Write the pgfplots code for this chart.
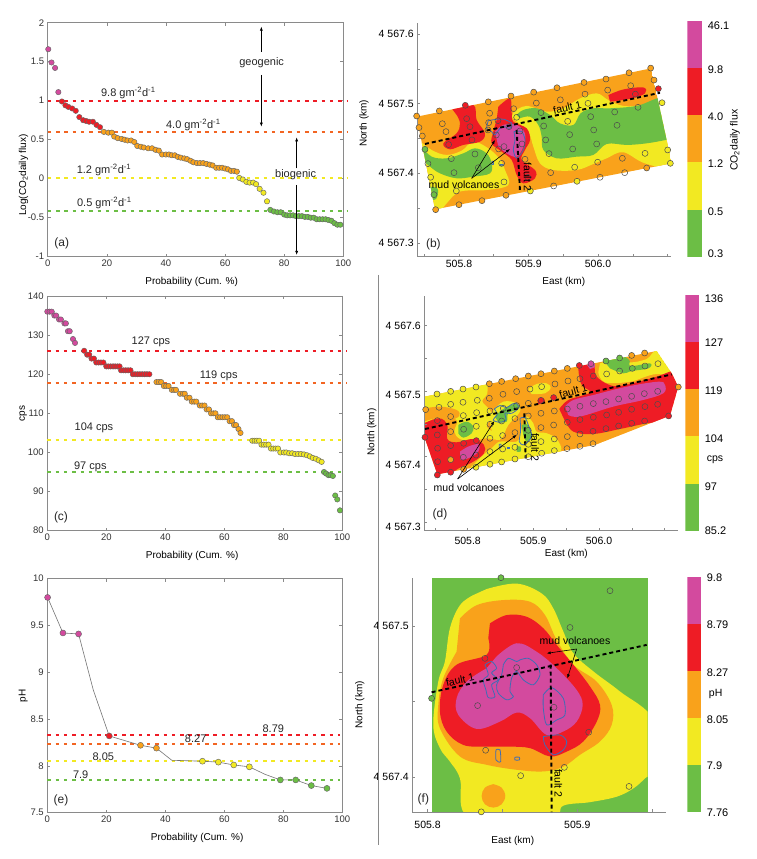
\documentclass[border=0pt]{standalone}
\usepackage{fontspec}
\setmainfont{Liberation Sans}
\usepackage{pgfplots}
\pgfplotsset{compat=1.18}
\usetikzlibrary{arrows.meta}

\definecolor{cmag}{HTML}{D34A9E}
\definecolor{cred}{HTML}{EE1C25}
\definecolor{cora}{HTML}{F9A21B}
\definecolor{cyel}{HTML}{F2E922}
\definecolor{cgre}{HTML}{6CBE45}
\definecolor{ldor}{HTML}{F26522}
\definecolor{cblu}{HTML}{3F6DB5}
\definecolor{axgr}{HTML}{8A8A8A}

\pgfplotsset{
  /pgf/number format/assume math mode=true,
  % left column: probability plots
  lpanel/.style={scale only axis,anchor=south west,clip=false,
    xmin=0,xmax=100,xtick={0,20,...,100},
    tick align=inside,major tick length=3pt,
    axis line style={axgr,line width=.6pt},tick style={axgr,line width=.5pt},
    tick label style={font=\fontsize{9.5}{11}\selectfont,text=black!80},
    label style={font=\fontsize{10}{12}\selectfont,text=black!85},
    xlabel={Probability (Cum. \%)},
  },
  xlab/.style={every axis x label/.style={at={(axis description cs:#1,-0.107)},anchor=center}},
  ylab/.style={every axis y label/.style={at={(axis description cs:-0.082,#1)},anchor=center,rotate=90}},
  hl/.style={#1,line width=2pt,dash pattern=on 3.5pt off 4.8pt},
  pt/.style={only marks,mark=*,mark size=#1,mark options={draw=black!60,line width=.45pt}},
  % maps: a hidden axis holds the colour fields, a second one the frame and the stations
  fieldax/.style={scale only axis,anchor=south west,hide axis},
  frameax/.style={scale only axis,anchor=south west,clip=false,
    axis x line*=bottom,axis y line*=left,
    axis line style={axgr,line width=.8pt,-},
    tick align=inside,major tick length=0pt,minor tick length=3pt,
    minor tick style={axgr,line width=.5pt},
    tick label style={font=\fontsize{10.5}{12}\selectfont,text=black},
    label style={font=\fontsize{10}{12}\selectfont,text=black!85},
    xlabel={East (km)},ylabel={North (km)},
    scaled ticks=false},
  cont/.style={draw=none,smooth,tension=.6},
  st/.style={only marks,mark=*,mark size=3pt,mark options={draw=black!70,line width=.5pt,fill=#1}},
  ost/.style={only marks,mark=o,mark size=3pt,mark options={draw=black!70,line width=.5pt}},
  vol/.style={cblu,line width=.8pt,smooth,tension=.5},
  flt/.style={black,line width=1.9pt,dash pattern=on 4pt off 3pt},
  cbar/.style={scale only axis,anchor=south west,xmin=0,xmax=1,ymin=0,ymax=5,
    xtick=\empty,yticklabel pos=right,major tick length=0pt,
    axis line style={draw=none},
    yticklabel style={xshift=2pt},
    tick label style={font=\fontsize{11}{12}\selectfont,text=black}},
  /pgfplots/table/zb/.style={row sep=\\,header=false,
    x expr=505.8+(\thisrowno{0}-297)/2085,y expr=4567.5+(311-\thisrowno{1})/2090},
  /pgfplots/table/zd/.style={row sep=\\,header=false,
    x expr=505.8+(\thisrowno{0}-323)/1970,y expr=4567.5+(318-\thisrowno{1})/1965},
  /pgfplots/table/zf/.style={row sep=\\,header=false,
    x expr=505.8+(\thisrowno{0}-203)/4490,y expr=4567.5+(183-\thisrowno{1})/4540},
  mapb/.style={at={(417.3pt,602.3pt)},width=253.4pt,height=234pt,
    xmin=505.74005,xmax=506.10456,ymin=4567.28038,ymax=4567.61627},
  mapd/.style={at={(424.3pt,328.3pt)},width=254pt,height=234.7pt,
    xmin=505.734,xmax=506.1208,ymin=4567.2868,ymax=4567.645},
  mapf/.style={at={(412.3pt,46.7pt)},width=253.7pt,height=234pt,
    xmin=505.7898,xmax=505.9592,ymin=4567.3769,ymax=4567.5315},
}

\begin{document}
\begin{tikzpicture}[x=1pt,y=1pt]
\path[use as bounding box] (0,0) rectangle (757,859);

% ---------- (a)
\begin{axis}[lpanel,xlab=0.487,ylab=0.349,at={(47.7pt,602.3pt)},width=295.6pt,height=234pt,
  ymin=-1,ymax=2,ytick={-1,-0.5,0,0.5,1,1.5,2},
  ylabel={Log(CO\textsubscript{2}daily flux)}]
\addplot[hl=cred] coordinates {(0,1)(101.7,1)};
\addplot[hl=ldor] coordinates {(0,0.6)(101.7,0.6)};
\addplot[hl=cyel] coordinates {(0,0.01)(101.7,0.01)};
\addplot[hl=cgre] coordinates {(0,-0.41)(101.7,-0.41)};
\addplot[pt=2.7pt,fill=cmag] coordinates {(0.2,1.66)(1.3,1.49)(2.5,1.42)(3.6,1.11)};
\addplot[pt=2.7pt,fill=cred] coordinates {(4.8,0.99)(6,0.94)(7,0.92)(8.3,0.90)(9.5,0.87)(10.7,0.79)(12,0.75)(13,0.74)(14,0.73)(15.3,0.73)(16.5,0.69)(17.7,0.66)};
\addplot[pt=2.7pt,fill=cora] coordinates {(19,0.60)(20.5,0.59)(21.7,0.59)(22.5,0.54)(23.7,0.52)(25,0.51)(26,0.50)(27,0.49)(28.2,0.49)(29.3,0.47)(30.3,0.42)(31.5,0.41)(32.5,0.40)(34,0.39)(35.3,0.39)(36.5,0.37)(37.6,0.36)(38.7,0.31)(40,0.31)(41,0.31)(42,0.30)(43,0.30)(44,0.28)(45,0.27)(46.2,0.26)(47.2,0.25)(48.3,0.23)(49.3,0.21)(50.5,0.20)(51.5,0.20)(52.6,0.20)(53.7,0.19)(54.8,0.18)(55.8,0.17)(57,0.14)(58,0.14)(59,0.14)(60,0.13)(61,0.12)(62,0.10)(63,0.10)(64,0.09)};
\addplot[pt=2.7pt,fill=cyel] coordinates {(64.8,0.01)(66,-0.01)(67.2,-0.04)(68.3,-0.05)(69.5,-0.05)(70.5,-0.07)(71.7,-0.13)(73,-0.18)(74.2,-0.29)};
\addplot[pt=2.7pt,fill=cgre] coordinates {(75.3,-0.40)(76.5,-0.42)(77.7,-0.43)(78.8,-0.43)(80,-0.46)(81,-0.47)(82,-0.47)(83,-0.47)(84,-0.48)(85,-0.48)(86,-0.48)(87,-0.49)(88,-0.49)(89,-0.50)(90,-0.50)(91,-0.52)(92,-0.52)(93,-0.52)(94,-0.52)(95,-0.53)(96,-0.54)(97,-0.57)(98,-0.59)(99,-0.59)};
\end{axis}

% ---------- (c)
\begin{axis}[lpanel,xlab=0.491,ylab=0.5,at={(47.3pt,328.3pt)},width=295pt,height=234.7pt,
  ymin=80,ymax=140,ytick={80,90,...,140},ylabel={cps}]
\addplot[hl=cred] coordinates {(0,126)(101.5,126)};
\addplot[hl=ldor] coordinates {(0,117.8)(101.5,117.8)};
\addplot[hl=cyel] coordinates {(0,103.3)(101,103.3)};
\addplot[hl=cgre] coordinates {(0,95)(101,95)};
\addplot[pt=2.7pt,fill=cmag] coordinates {(0,136)(0.8,136)(1.5,136)(2.4,135)(3,135)(4,134)(4.6,134)(5.8,133)(6.3,133)(7,131)(7.6,131)(8.7,129)(9.4,128)};
\addplot[pt=2.7pt,fill=cred] coordinates {(12.5,126)(13.5,125)(14.2,125)(15,124)(15.8,124)(16.6,123)(17.4,123)(18.2,123)(19,123)(20,122)(20.7,122)(21.5,122)(22.3,122)(23,122)(23.8,122)(24.5,122)(25,121)(25.8,121)(26.6,121)(27.4,121)(28.2,121)(29,120)(29.8,120)(30.6,120)(31.4,120)(32.2,120)(33,120)(33.8,120)(34.6,120)};
\addplot[pt=2.7pt,fill=cora] coordinates {(37,118)(37.8,118)(38.6,118)(39.5,117)(40.3,117)(41.1,117)(42.2,116)(43,116)(43.6,116)(45,115)(46,115)(46.6,115)(47.3,114)(48.2,114)(49,113)(49.8,113)(50.5,113)(51.7,112)(52.5,112)(53.3,112)(54,111)(54.8,111)(55.5,110)(56.3,110)(57,110)(57.8,109)(58.6,109)(59.4,109)(60.2,109)(61,109)(61.8,108)(62.6,108)(63.3,107)(64,107)(64.8,106)(65.5,105)};
\addplot[pt=2.7pt,fill=cyel] coordinates {(69.5,103)(70.3,103)(71,103)(71.8,103)(72.6,102)(73.4,102)(74.2,102)(75,102)(75.8,101)(76.6,101)(77.4,101)(78.2,101)(79,100)(80.2,100)(81,100)(82,99.8)(83,99.8)(84,99.6)(85,99.6)(86,99.6)(87,99.5)(88,99.3)(89,99)(90,98.6)(91,98.4)(92,98)(93,97.6)};
\addplot[pt=2.7pt,fill=cgre] coordinates {(93.8,95)(94.5,94.6)(95.3,94.2)(96,94.2)(96.8,94)(97.6,89)(98.3,88)(99.2,85.2)};
\end{axis}

% ---------- (e)
\begin{axis}[lpanel,xlab=0.508,ylab=0.5,at={(47.3pt,46.3pt)},width=295pt,height=234pt,
  ymin=7.5,ymax=10,ytick={7.5,8,...,10},ylabel={pH}]
\addplot[hl=cred] coordinates {(0,8.33)(99.2,8.33)};
\addplot[hl=ldor] coordinates {(0,8.23)(99.2,8.23)};
\addplot[hl=cyel] coordinates {(0,8.05)(99.2,8.05)};
\addplot[hl=cgre] coordinates {(0,7.85)(99.2,7.85)};
\addplot[black!55,line width=.6pt] coordinates {(0.1,9.8)(5.3,9.42)(10.6,9.41)(15.6,8.81)(21,8.32)(31.6,8.22)(37,8.19)(42.2,8.06)(52.6,8.05)(58,8.04)(63.2,8.01)(68.5,7.99)(73.8,7.91)(79,7.85)(84.2,7.85)(89.5,7.79)(94.8,7.76)};
\addplot[pt=3pt,fill=cmag] coordinates {(0.1,9.8)(5.3,9.42)(10.6,9.41)};
\addplot[pt=3pt,fill=cred] coordinates {(21,8.32)};
\addplot[pt=3pt,fill=cora] coordinates {(31.6,8.22)(37,8.19)};
\addplot[pt=3pt,fill=cyel] coordinates {(52.6,8.05)(58,8.04)(63.2,8.01)(68.5,7.99)};
\addplot[pt=3pt,fill=cgre] coordinates {(79,7.85)(84.2,7.85)(89.5,7.79)(94.8,7.76)};
\end{axis}

% ---------- (b) colour field
\begin{axis}[fieldax,mapb]
\clip (505.7391,4567.4813) -- (506.0763,4567.5507) -- (506.1060,4567.4144) -- (505.7655,4567.3483) -- cycle;
\addplot[draw=none,fill=cora] table[zb] {170 350\\ 873 205\\ 935 490\\ 225 628\\};
\addplot[cont,fill=cyel] table[zb] {462 335\\ 500 318\\ 560 335\\ 610 325\\ 660 295\\ 710 280\\ 745 300\\ 790 318\\ 850 315\\ 930 295\\ 980 400\\ 980 510\\ 860 492\\ 790 457\\ 740 475\\ 700 492\\ 650 510\\ 580 510\\ 540 490\\ 520 440\\ 505 395\\ 470 365\\ 455 350\\};
\addplot[cont,fill=cgre] table[zb] {470 345\\ 490 330\\ 530 325\\ 570 345\\ 600 370\\ 640 375\\ 662 340\\ 700 325\\ 750 325\\ 830 318\\ 925 295\\ 960 410\\ 918 420\\ 860 430\\ 800 435\\ 740 432\\ 700 465\\ 650 470\\ 590 475\\ 550 450\\ 545 410\\ 535 375\\ 510 350\\ 480 355\\};
\addplot[cont,fill=cyel] table[zb] {170 415\\ 215 450\\ 260 465\\ 305 452\\ 340 425\\ 385 445\\ 420 478\\ 435 510\\ 445 555\\ 380 570\\ 300 575\\ 260 610\\ 225 650\\ 195 620\\ 160 500\\};
\addplot[cont,fill=cgre] table[zb] {185 440\\ 215 470\\ 260 475\\ 310 460\\ 345 445\\ 380 460\\ 395 490\\ 390 520\\ 340 530\\ 290 535\\ 240 520\\ 210 500\\ 185 480\\};
\addplot[cont,fill=cgre] table[zb] {205 560\\ 232 565\\ 232 590\\ 222 600\\ 205 590\\};
\addplot[cont,fill=cred] table[zb] {275 325\\ 340 315\\ 350 360\\ 375 400\\ 360 425\\ 310 435\\ 270 448\\ 250 430\\ 290 400\\ 300 370\\ 290 345\\};
\addplot[cont,fill=cred] table[zb] {415 320\\ 450 295\\ 455 335\\ 460 365\\ 500 385\\ 510 420\\ 495 450\\ 485 480\\ 525 510\\ 525 535\\ 490 550\\ 470 525\\ 455 480\\ 425 455\\ 395 430\\ 400 395\\ 410 360\\};
\addplot[cont,fill=cred] table[zb] {745 285\\ 790 268\\ 850 262\\ 855 280\\ 815 295\\ 750 305\\};
\addplot[cont,fill=cmag] table[zb] {405 395\\ 430 375\\ 470 375\\ 495 400\\ 490 440\\ 470 470\\ 440 460\\ 415 440\\};
\end{axis}
% ---------- (b) frame, stations
\begin{axis}[frameax,mapb,
  xtick={505.8,505.9,506.0},xticklabels={505.8,505.9,506.0},
  minor xtick={505.75,505.8,505.85,505.9,505.95,506.0,506.05,506.1},
  ytick={4567.3,4567.4,4567.5,4567.6},yticklabels={4 567.3,4 567.4,4 567.5,4 567.6},
  minor ytick={4567.3,4567.35,4567.4,4567.45,4567.5,4567.55,4567.6},
  every axis x label/.style={at={(axis description cs:0.578,-0.108)},anchor=center},
  every axis y label/.style={at={(axis description cs:-0.21,0.57)},anchor=center,rotate=90}]
\addplot[vol] table[zb] {385 362\\ 410 358\\ 432 358\\ 455 370\\ 450 385\\ 425 380\\ 405 405\\ 395 395\\ 380 385\\ 385 362\\};
\addplot[vol] table[zb] {462 395\\ 485 395\\ 495 420\\ 490 450\\ 470 475\\ 460 450\\ 465 420\\ 462 395\\};
\addplot[vol] table[zb] {396 484\\ 400 484\\ 400 494\\ 396 494\\ 396 484\\};
\addplot[vol] table[zb] {420 494\\ 430 494\\ 430 497\\ 420 497\\ 420 494\\};
\addplot[flt] table[zb] {195 432\\ 900 278\\};
\addplot[flt] table[zb] {470 390\\ 480 572\\};
\addplot[st=cora] table[zb] {170 348\\ 238 333\\ 385 305\\ 453 288\\ 521 276\\ 591 263\\ 672 247\\ 738 237\\ 807 218\\ 872 204\\ 177 383\\ 882 240\\ 187 408\\ 227 629\\ 297 614\\ 366 602\\ 438 586\\ 860 504\\};
\addplot[st=cred] table[zb] {895 266\\ 316 316\\};
\addplot[st=cyel] table[zb] {906 308\\ 923 450\\ 931 490\\ 511 573\\ 651 544\\ 212 532\\};
\addplot[st=cgre] table[zb] {195 448\\ 222 584\\};
\addplot[ost] table[zb] {320 356\\ 389 340\\ 461 326\\ 529 309\\ 601 299\\ 675 282\\ 743 270\\ 812 257\\ 247 371\\ 330 380\\ 414 362\\ 470 352\\ 543 338\\ 623 364\\ 684 310\\ 764 336\\ 826 282\\ 258 395\\ 386 368\\ 384 390\\ 447 380\\ 480 393\\ 551 378\\ 629 404\\ 692 350\\ 771 376\\ 834 322\\ 266 434\\ 336 420\\ 409 405\\ 486 432\\ 557 420\\ 638 447\\ 701 390\\ 710 432\\ 855 460\\ 204 491\\ 274 476\\ 345 462\\ 416 447\\ 432 440\\ 495 478\\ 567 461\\ 644 502\\ 713 487\\ 787 475\\ 282 518\\ 355 503\\ 425 490\\ 572 518\\ 720 532\\ 794 518\\ 289 573\\ 432 546\\ 503 532\\ 581 558\\};
\end{axis}
% colour bar (b)
\begin{axis}[cbar,at={(687.3pt,602.3pt)},width=15pt,height=235.7pt,
  ytick={0.06,0.96,1.97,2.98,3.96,4.89},yticklabels={0.3,0.5,1.2,4.0,9.8,46.1}]
\addplot[draw=none,fill=cgre] coordinates {(0,0)(1,0)(1,1)(0,1)};
\addplot[draw=none,fill=cyel] coordinates {(0,1)(1,1)(1,2)(0,2)};
\addplot[draw=none,fill=cora] coordinates {(0,2)(1,2)(1,3)(0,3)};
\addplot[draw=none,fill=cred] coordinates {(0,3)(1,3)(1,4)(0,4)};
\addplot[draw=none,fill=cmag] coordinates {(0,4)(1,4)(1,5)(0,5)};
\end{axis}

% ---------- (d) colour field
\begin{axis}[fieldax,mapd]
\clip (505.7340,4567.4913) -- (506.0878,4567.5611) -- (506.1107,4567.5270) -- (506.1208,4567.5066) -- (506.1081,4567.4623) -- (505.9939,4567.4176) -- (505.7538,4567.3728) -- (505.7340,4567.4303) -- cycle;
\addplot[draw=none,fill=cora] table[zd] {193 335\\ 890 198\\ 935 265\\ 955 305\\ 930 392\\ 705 480\\ 232 568\\ 193 455\\};
\addplot[cont,fill=cyel] table[zd] {185 330\\ 290 305\\ 372 290\\ 382 325\\ 367 348\\ 385 370\\ 398 395\\ 380 425\\ 415 450\\ 420 465\\ 375 460\\ 340 470\\ 300 462\\ 283 440\\ 290 405\\ 240 395\\ 185 420\\};
\addplot[cont,fill=cora] table[zd] {185 372\\ 240 365\\ 290 375\\ 298 393\\ 270 405\\ 240 397\\ 185 412\\};
\addplot[cont,fill=cgre] table[zd] {295 420\\ 320 410\\ 340 425\\ 335 445\\ 310 458\\ 295 445\\};
\addplot[cont,fill=cyel] table[zd] {398 378\\ 430 350\\ 470 355\\ 480 380\\ 445 420\\ 425 460\\ 400 450\\ 390 410\\};
\addplot[cont,fill=cgre] table[zd] {405 395\\ 425 375\\ 445 365\\ 470 355\\ 478 370\\ 445 385\\ 440 410\\ 415 412\\};
\addplot[cont,fill=cyel] table[zd] {320 560\\ 370 510\\ 395 490\\ 420 470\\ 470 470\\ 482 440\\ 498 395\\ 520 415\\ 530 440\\ 560 445\\ 590 462\\ 603 500\\ 560 540\\ 350 580\\};
\addplot[cont,fill=cgre] table[zd] {470 485\\ 482 485\\ 482 500\\ 470 500\\};
\addplot[cont,fill=cgre] table[zd] {485 420\\ 505 420\\ 515 455\\ 500 470\\ 490 450\\};
\addplot[cont,fill=cyel] table[zd] {505 312\\ 530 297\\ 560 295\\ 572 308\\ 555 325\\ 515 327\\};
\addplot[cont,fill=cred] table[zd] {170 425\\ 235 400\\ 262 420\\ 262 462\\ 290 472\\ 340 462\\ 372 480\\ 372 505\\ 340 530\\ 300 548\\ 232 580\\ 180 500\\};
\addplot[cont,fill=cmag] table[zd] {300 500\\ 325 485\\ 356 478\\ 354 502\\ 325 520\\ 302 525\\};
\addplot[cont,fill=cyel] table[zd] {720 235\\ 770 222\\ 810 232\\ 860 222\\ 893 198\\ 945 265\\ 880 268\\ 810 290\\ 735 292\\ 715 262\\};
\addplot[cont,fill=cgre] table[zd] {730 225\\ 780 212\\ 808 225\\ 812 243\\ 870 235\\ 865 250\\ 815 258\\ 790 265\\ 750 250\\};
\addplot[cont,fill=cred] table[zd] {598 372\\ 625 345\\ 680 328\\ 690 318\\ 670 305\\ 660 285\\ 658 240\\ 700 235\\ 708 272\\ 745 298\\ 785 302\\ 880 278\\ 960 255\\ 975 310\\ 945 400\\ 860 415\\ 780 432\\ 700 447\\ 640 440\\ 612 402\\};
\addplot[cont,fill=cmag] table[zd] {615 365\\ 640 345\\ 700 330\\ 800 305\\ 895 290\\ 915 300\\ 910 325\\ 850 345\\ 760 365\\ 660 395\\ 625 390\\};
\addplot[cont,fill=cmag] table[zd] {680 238\\ 700 230\\ 705 245\\ 690 252\\};
\addplot[cont,fill=cred] table[zd] {532 345\\ 550 340\\ 555 352\\ 535 358\\};
\end{axis}
% ---------- (d) frame, stations
\begin{axis}[frameax,mapd,
  xtick={505.8,505.9,506.0},xticklabels={505.8,505.9,506.0},
  xticklabel style={yshift=-3pt},
  minor xtick={505.75,505.8,505.85,505.9,505.95,506.0,506.05,506.1},
  ytick={4567.2919,4567.388,4567.4939,4567.5992},yticklabels={4 567.3,4 567.4,4 567.5,4 567.6},
  minor ytick={4567.3,4567.35,4567.4,4567.45,4567.5,4567.55,4567.6},
  every axis x label/.style={at={(axis description cs:0.559,-0.1)},anchor=center},
  every axis y label/.style={at={(axis description cs:-0.207,0.42)},anchor=center,rotate=90}]
\addplot[vol] table[zd] {403 372\\ 420 362\\ 440 368\\ 455 358\\ 470 355\\ 475 370\\ 455 385\\ 435 385\\ 438 405\\ 420 412\\ 400 405\\ 412 388\\ 403 372\\};
\addplot[vol] table[zd] {480 400\\ 495 398\\ 505 420\\ 515 450\\ 505 470\\ 490 480\\ 478 470\\ 482 435\\ 480 400\\};
\addplot[vol] table[zd] {418 478\\ 423 478\\ 423 488\\ 418 488\\ 418 478\\};
\addplot[vol] table[zd] {443 486\\ 447 486\\ 447 490\\ 443 490\\ 443 486\\};
\addplot[flt] table[zd] {195 432\\ 935 268\\};
\addplot[flt] table[zd] {493 385\\ 497 520\\};
\addplot[st=cyel] table[zd] {231 327\\ 272 319\\ 309 312\\ 348 306\\ 465 522\\ 390 538\\ 425 531\\ 348 547\\};
\addplot[st=cora] table[zd] {388 296\\ 425 289\\ 467 281\\ 505 273\\ 543 266\\ 583 258\\ 622 250\\ 815 211\\ 854 204\\ 197 374\\ 955 306\\ 311 553\\ 272 524\\};
\addplot[st=cred] table[zd] {195 457\\ 232 570\\ 272 562\\ 349 467\\ 543 346\\ 581 338\\ 658 241\\ 926 393\\};
\addplot[st=cmag] table[zd] {693 236\\};
\addplot[st=cgre] table[zd] {738 228\\ 779 219\\};
\addplot[ost] table[zd] {237 367\\ 272 358\\ 309 352\\ 352 346\\ 388 340\\ 429 328\\ 470 320\\ 510 312\\ 545 305\\ 585 297\\ 624 288\\ 660 281\\ 700 273\\ 740 267\\ 779 258\\ 817 250\\ 855 243\\ 894 236\\ 232 407\\ 272 395\\ 310 392\\ 350 383\\ 390 378\\ 430 370\\ 470 362\\ 505 355\\ 622 372\\ 660 364\\ 700 356\\ 738 350\\ 776 342\\ 815 334\\ 853 326\\ 893 319\\ 232 450\\ 272 440\\ 311 433\\ 349 424\\ 390 418\\ 425 408\\ 465 401\\ 505 393\\ 543 385\\ 583 378\\ 622 412\\ 660 404\\ 700 397\\ 740 390\\ 776 382\\ 815 373\\ 855 365\\ 893 358\\ 233 490\\ 272 482\\ 311 475\\ 390 460\\ 428 452\\ 465 443\\ 505 436\\ 543 428\\ 581 420\\ 622 455\\ 660 447\\ 699 439\\ 738 431\\ 776 423\\ 815 415\\ 854 408\\ 233 530\\ 310 517\\ 348 510\\ 390 500\\ 428 492\\ 465 487\\ 505 478\\ 543 470\\ 583 462\\ 505 515\\ 545 505\\ 583 497\\ 621 491\\ 660 484\\ 699 476\\};
\end{axis}
% colour bar (d)
\begin{axis}[cbar,at={(685.3pt,328.3pt)},width=14pt,height=235.7pt,
  ytick={0,0.93,1.96,2.97,3.99,4.92},yticklabels={85.2,97,104,119,127,136}]
\addplot[draw=none,fill=cgre] coordinates {(0,0)(1,0)(1,1)(0,1)};
\addplot[draw=none,fill=cyel] coordinates {(0,1)(1,1)(1,2)(0,2)};
\addplot[draw=none,fill=cora] coordinates {(0,2)(1,2)(1,3)(0,3)};
\addplot[draw=none,fill=cred] coordinates {(0,3)(1,3)(1,4)(0,4)};
\addplot[draw=none,fill=cmag] coordinates {(0,4)(1,4)(1,5)(0,5)};
\end{axis}

% ---------- (f) colour field
\begin{axis}[fieldax,mapf]
\addplot[draw=none,fill=cgre] table[zf] {215 40\\ 863 40\\ 863 742\\ 215 742\\};
\clip (505.8027,4567.5315) -- (505.9470,4567.5315) -- (505.9470,4567.3769) -- (505.8027,4567.3769) -- cycle;
\addplot[cont,fill=cyel] table[zf] {380 72\\ 470 55\\ 545 85\\ 580 130\\ 610 200\\ 640 265\\ 700 320\\ 780 380\\ 880 465\\ 880 610\\ 855 640\\ 820 670\\ 770 695\\ 690 712\\ 610 722\\ 570 760\\ 330 760\\ 300 640\\ 270 590\\ 240 550\\ 220 480\\ 235 350\\ 255 290\\ 270 190\\ 300 120\\ 340 90\\};
\addplot[cont,fill=cora] table[zf] {300 160\\ 350 120\\ 430 105\\ 510 110\\ 555 150\\ 590 225\\ 640 300\\ 710 350\\ 755 420\\ 755 480\\ 720 530\\ 660 570\\ 610 605\\ 550 620\\ 470 615\\ 380 600\\ 300 575\\ 240 490\\ 235 420\\ 250 340\\ 290 260\\};
\addplot[cont,fill=cora] table[zf] {400 658\\ 425 668\\ 436 693\\ 425 718\\ 400 728\\ 375 718\\ 365 693\\ 375 668\\ 400 658\\};
\addplot[cont,fill=cred] table[zf] {390 175\\ 440 150\\ 500 155\\ 550 190\\ 590 240\\ 640 300\\ 690 365\\ 720 420\\ 710 470\\ 670 530\\ 620 560\\ 570 575\\ 510 550\\ 450 545\\ 380 545\\ 310 540\\ 260 500\\ 240 440\\ 250 360\\ 290 300\\ 380 270\\ 385 220\\};
\addplot[cont,fill=cmag] table[zf] {410 275\\ 470 235\\ 530 260\\ 590 310\\ 650 375\\ 668 420\\ 650 470\\ 610 500\\ 560 510\\ 510 460\\ 470 443\\ 420 470\\ 350 492\\ 295 450\\ 290 400\\ 320 350\\ 380 310\\};
\end{axis}
% ---------- (f) frame, stations
\begin{axis}[frameax,mapf,
  xtick={505.8,505.9},xticklabels={505.8,505.9},
  xticklabel style={yshift=-5pt},
  minor xtick={505.8,505.85,505.9,505.95},
  ytick={4567.4,4567.5},yticklabels={4 567.4,4 567.5},
  minor ytick={4567.4,4567.45,4567.5},
  every axis x label/.style={at={(axis description cs:0.396,-0.122)},anchor=center},
  every axis y label/.style={at={(axis description cs:-0.207,0.46)},anchor=center,rotate=90}]
\addplot[vol] table[zf] {375 300\\ 395 290\\ 410 310\\ 395 325\\ 415 345\\ 395 360\\ 405 395\\ 385 398\\ 378 375\\ 370 345\\ 385 330\\ 375 300\\};
\addplot[vol] table[zf] {430 300\\ 445 280\\ 470 290\\ 480 285\\ 505 280\\ 530 300\\ 540 330\\ 520 360\\ 490 345\\ 470 320\\ 455 340\\ 450 380\\ 460 395\\ 440 405\\ 415 385\\ 410 360\\ 425 330\\ 430 300\\};
\addplot[vol] table[zf] {550 390\\ 575 368\\ 610 400\\ 615 450\\ 590 465\\ 560 480\\ 550 430\\ 550 390\\};
\addplot[vol] table[zf] {550 515\\ 600 510\\ 620 530\\ 610 555\\ 580 570\\ 555 540\\ 550 515\\};
\addplot[vol] table[zf] {408 555\\ 420 555\\ 422 590\\ 408 585\\ 408 555\\};
\addplot[vol] table[zf] {465 577\\ 478 577\\ 478 585\\ 465 585\\ 465 577\\};
\addplot[flt] table[zf] {215 382\\ 860 240\\};
\addplot[flt] table[zf] {572 300\\ 575 742\\};
\addplot[st=cgre] table[zf] {423 38\\ 215 400\\};
\addplot[st=cyel] table[zf] {364 741\\};
\addplot[ost] table[zf] {750 77\\ 630 188\\ 375 280\\ 470 308\\ 353 422\\ 582 427\\ 686 502\\ 377 556\\ 613 607\\ 482 632\\ 807 665\\};
\end{axis}
% colour bar (f)
\begin{axis}[cbar,at={(687.3pt,46.7pt)},width=14pt,height=235pt,
  ytick={0,1,1.96,2.98,4,4.99},yticklabels={7.76,7.9,8.05,8.27,8.79,9.8}]
\addplot[draw=none,fill=cgre] coordinates {(0,0)(1,0)(1,1)(0,1)};
\addplot[draw=none,fill=cyel] coordinates {(0,1)(1,1)(1,2)(0,2)};
\addplot[draw=none,fill=cora] coordinates {(0,2)(1,2)(1,3)(0,3)};
\addplot[draw=none,fill=cred] coordinates {(0,3)(1,3)(1,4)(0,4)};
\addplot[draw=none,fill=cmag] coordinates {(0,4)(1,4)(1,5)(0,5)};
\end{axis}

% ---------- panel separator
\draw[axgr,line width=.6pt] (378.5,584) -- (378.5,14);

\tikzset{lbl/.style={font=\fontsize{11}{13}\selectfont,text=black!85},
         pan/.style={font=\fontsize{12}{14}\selectfont,text=black!85},
         mtx/.style={font=\fontsize{10.5}{12}\selectfont,text=black},
         arr/.style={black,line width=.6pt,-{Latex[length=4pt,width=3pt]}}}

% text and arrows, panel (a)
\begin{scope}[shift={(0,859)},x=0.33333pt,y=-0.33333pt]
\node[lbl] at (385,280) {9.8 gm\textsuperscript{-2}d\textsuperscript{-1}};
\node[lbl] at (580,376) {4.0 gm\textsuperscript{-2}d\textsuperscript{-1}};
\node[lbl] at (312,511) {1.2 gm\textsuperscript{-2}d\textsuperscript{-1}};
\node[lbl] at (313,610) {0.5 gm\textsuperscript{-2}d\textsuperscript{-1}};
\node[lbl] at (785,187) {geogenic};
\node[lbl] at (887,523) {biogenic};
\node[pan] at (185,731) {(a)};
\draw[arr] (784,155) -- (784,80);
\draw[arr] (784,225) -- (784,380);
\draw[arr] (890,505) -- (890,412);
\draw[arr] (890,555) -- (890,765);
\end{scope}
% panel (c)
\begin{scope}[shift={(0,574)},x=0.33333pt,y=-0.33333pt]
\node[lbl] at (453,170) {127 cps};
\node[lbl] at (656,271) {119 cps};
\node[lbl] at (282,429) {104 cps};
\node[lbl] at (271,544) {97 cps};
\node[pan] at (183,698) {(c)};
\end{scope}
% panel (e)
\begin{scope}[shift={(0,294)},x=0.33333pt,y=-0.33333pt]
\node[lbl] at (820,491) {8.79};
\node[lbl] at (587,522) {8.27};
\node[lbl] at (310,575) {8.05};
\node[lbl] at (242,630) {7.9};
\node[pan] at (183,705) {(e)};
\end{scope}
% panel (b)
\begin{scope}[shift={(360,859)},x=0.33333pt,y=-0.33333pt]
\node[mtx] at (312,555) {mud volcanoes};
\node[mtx,rotate=13] at (622,322) {fault 1};
\node[mtx,rotate=-90] at (503,530) {fault 2};
\node[pan] at (220,733) {(b)};
\draw[arr] (335,535) -- (405,420);
\draw[arr] (335,535) -- (450,447);
\node[rotate=90,font=\fontsize{10.5}{12}\selectfont] at (1125,421) {CO\textsubscript{2}daily flux};
\end{scope}
% panel (d)
\begin{scope}[shift={(360,574)},x=0.33333pt,y=-0.33333pt]
\node[mtx] at (327,607) {mud volcanoes};
\node[mtx,rotate=15] at (640,318) {fault 1};
\node[mtx,rotate=-90] at (525,487) {fault 2};
\node[pan] at (240,688) {(d)};
\draw[arr] (293,582) -- (403,408);
\draw[arr] (293,582) -- (470,450);
\node[font=\fontsize{10.5}{12}\selectfont] at (1065,524) {cps};
\end{scope}
% panel (f)
\begin{scope}[shift={(360,294)},x=0.33333pt,y=-0.33333pt]
\node[mtx] at (645,228) {mud volcanoes};
\node[mtx,rotate=12] at (300,345) {fault 1};
\node[mtx,rotate=-90] at (595,655) {fault 2};
\node[pan] at (190,703) {(f)};
\draw[arr] (650,252) -- (560,265);
\draw[arr] (650,252) -- (622,340);
\node[font=\fontsize{10.5}{12}\selectfont] at (1067,388) {pH};
\end{scope}
\end{tikzpicture}
\end{document}
